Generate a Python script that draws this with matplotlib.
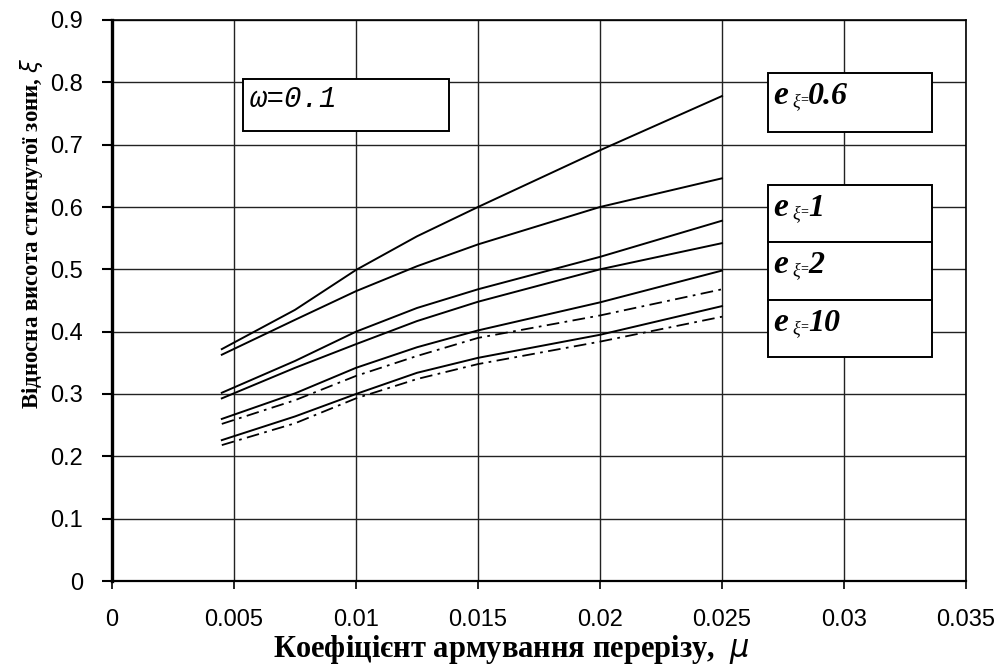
import numpy as np
import matplotlib
matplotlib.use("Agg")
import matplotlib.pyplot as plt
from matplotlib.patches import Rectangle

# --- data ---
mu = [0.0045, 0.0075, 0.01, 0.0125, 0.015, 0.02, 0.025]
xi_1 = [0.372, 0.435, 0.499, 0.553, 0.600, 0.691, 0.778]
xi_2 = [0.363, 0.419, 0.465, 0.505, 0.540, 0.600, 0.646]
xi_3 = [0.302, 0.353, 0.400, 0.438, 0.468, 0.520, 0.578]
xi_4 = [0.293, 0.342, 0.380, 0.417, 0.448, 0.500, 0.542]
xi_5 = [0.260, 0.301, 0.342, 0.375, 0.402, 0.447, 0.498]
xi_6 = [0.252, 0.290, 0.329, 0.361, 0.390, 0.426, 0.468]
xi_7 = [0.226, 0.264, 0.300, 0.334, 0.358, 0.395, 0.441]
xi_8 = [0.218, 0.253, 0.293, 0.324, 0.348, 0.384, 0.424]

x_ticks = [0, 0.005, 0.01, 0.015, 0.02, 0.025, 0.03, 0.035]
x_tick_labels = ["0", "0.005", "0.01", "0.015", "0.02", "0.025", "0.03", "0.035"]
y_ticks = [0, 0.1, 0.2, 0.3, 0.4, 0.5, 0.6, 0.7, 0.8, 0.9]
y_tick_labels = ["0", "0.1", "0.2", "0.3", "0.4", "0.5", "0.6", "0.7", "0.8", "0.9"]

ecc_labels = ["0.6", "1", "2", "10"]

W, H = 1000, 669


def px(x, y):
    # pixel coords (top-left origin) -> figure fraction
    return x / W, 1 - y / H


fig = plt.figure(figsize=(10, 6.69), dpi=100)
ax = fig.add_axes([112 / W, (H - 581) / H, 854 / W, 561 / H])

solid = dict(color="black", lw=1.4, zorder=3)
dashdot = dict(color="black", lw=1.3, ls=(0, (7, 3, 1.5, 3)), zorder=3)

ax.plot(mu, xi_1, **solid)
ax.plot(mu, xi_2, **solid)
ax.plot(mu, xi_3, **solid)
ax.plot(mu, xi_4, **solid)
ax.plot(mu, xi_5, **solid)
ax.plot(mu, xi_6, **dashdot)
ax.plot(mu, xi_7, **solid)
ax.plot(mu, xi_8, **dashdot)

ax.set_xlim(0, 0.035)
ax.set_ylim(0, 0.9)
ax.set_xticks(x_ticks)
ax.set_xticklabels(x_tick_labels, fontsize=17, family=["Liberation Sans", "DejaVu Sans"])
ax.set_yticks(y_ticks)
ax.set_yticklabels(y_tick_labels, fontsize=17, family=["Liberation Sans", "DejaVu Sans"])
ax.tick_params(axis="x", direction="out", length=6, width=1.2, pad=14)
ax.tick_params(axis="y", direction="out", length=7, width=1.5, pad=14)

ax.grid(True, color="#222222", lw=1.0)
ax.set_axisbelow(True)
ax.spines["left"].set_linewidth(2.4)
ax.spines["bottom"].set_linewidth(1.6)
ax.spines["top"].set_linewidth(1.2)
ax.spines["right"].set_linewidth(1.2)

# axis labels
serif = ["Liberation Serif", "DejaVu Serif"]
fig.text(*px(511, 649), "Коефіцієнт армування перерізу,  $\\mu$", ha="center", va="center",
         fontsize=22, fontweight="bold", family=serif)
fig.text(*px(32, 233), "Відносна висота стиснутої зони, $\\xi$", ha="center", va="center",
         rotation=90, fontsize=16.5, fontweight="bold", family=serif)


def box(x0, y0, x1, y1):
    fx0, fy1 = px(x0, y1)
    fig.add_artist(Rectangle((fx0, fy1), (x1 - x0) / W, (y1 - y0) / H,
                             transform=fig.transFigure, facecolor="white",
                             edgecolor="black", lw=1.4, zorder=5))


# omega box
box(243, 79, 449, 131)
fig.text(*px(250, 99), "ω=0.1", ha="left", va="center", fontsize=21, style="italic",
         family=["Liberation Mono", "DejaVu Sans Mono"], zorder=6)

# eccentricity boxes
box(768, 73, 932, 132)
box(768, 185, 932, 242)
box(768, 242, 932, 300)
box(768, 300, 932, 357)

baselines = [104, 216, 273, 331]
for lab, yb in zip(ecc_labels, baselines):
    fig.text(*px(773, yb), "e", ha="left", va="baseline", fontsize=24, fontweight="bold",
             style="italic", family=serif, zorder=6)
    fig.text(*px(792, yb + 2), "ξ", ha="left", va="baseline", fontsize=13,
             style="italic", family=serif, zorder=6)
    fig.text(*px(800, yb - 1), "=", ha="left", va="baseline", fontsize=10,
             fontweight="bold", family=serif, zorder=6)
    fig.text(*px(808, yb), lab, ha="left", va="baseline", fontsize=23, fontweight="bold",
             style="italic", family=serif, zorder=6)

fig.savefig("out.png", dpi=100)
